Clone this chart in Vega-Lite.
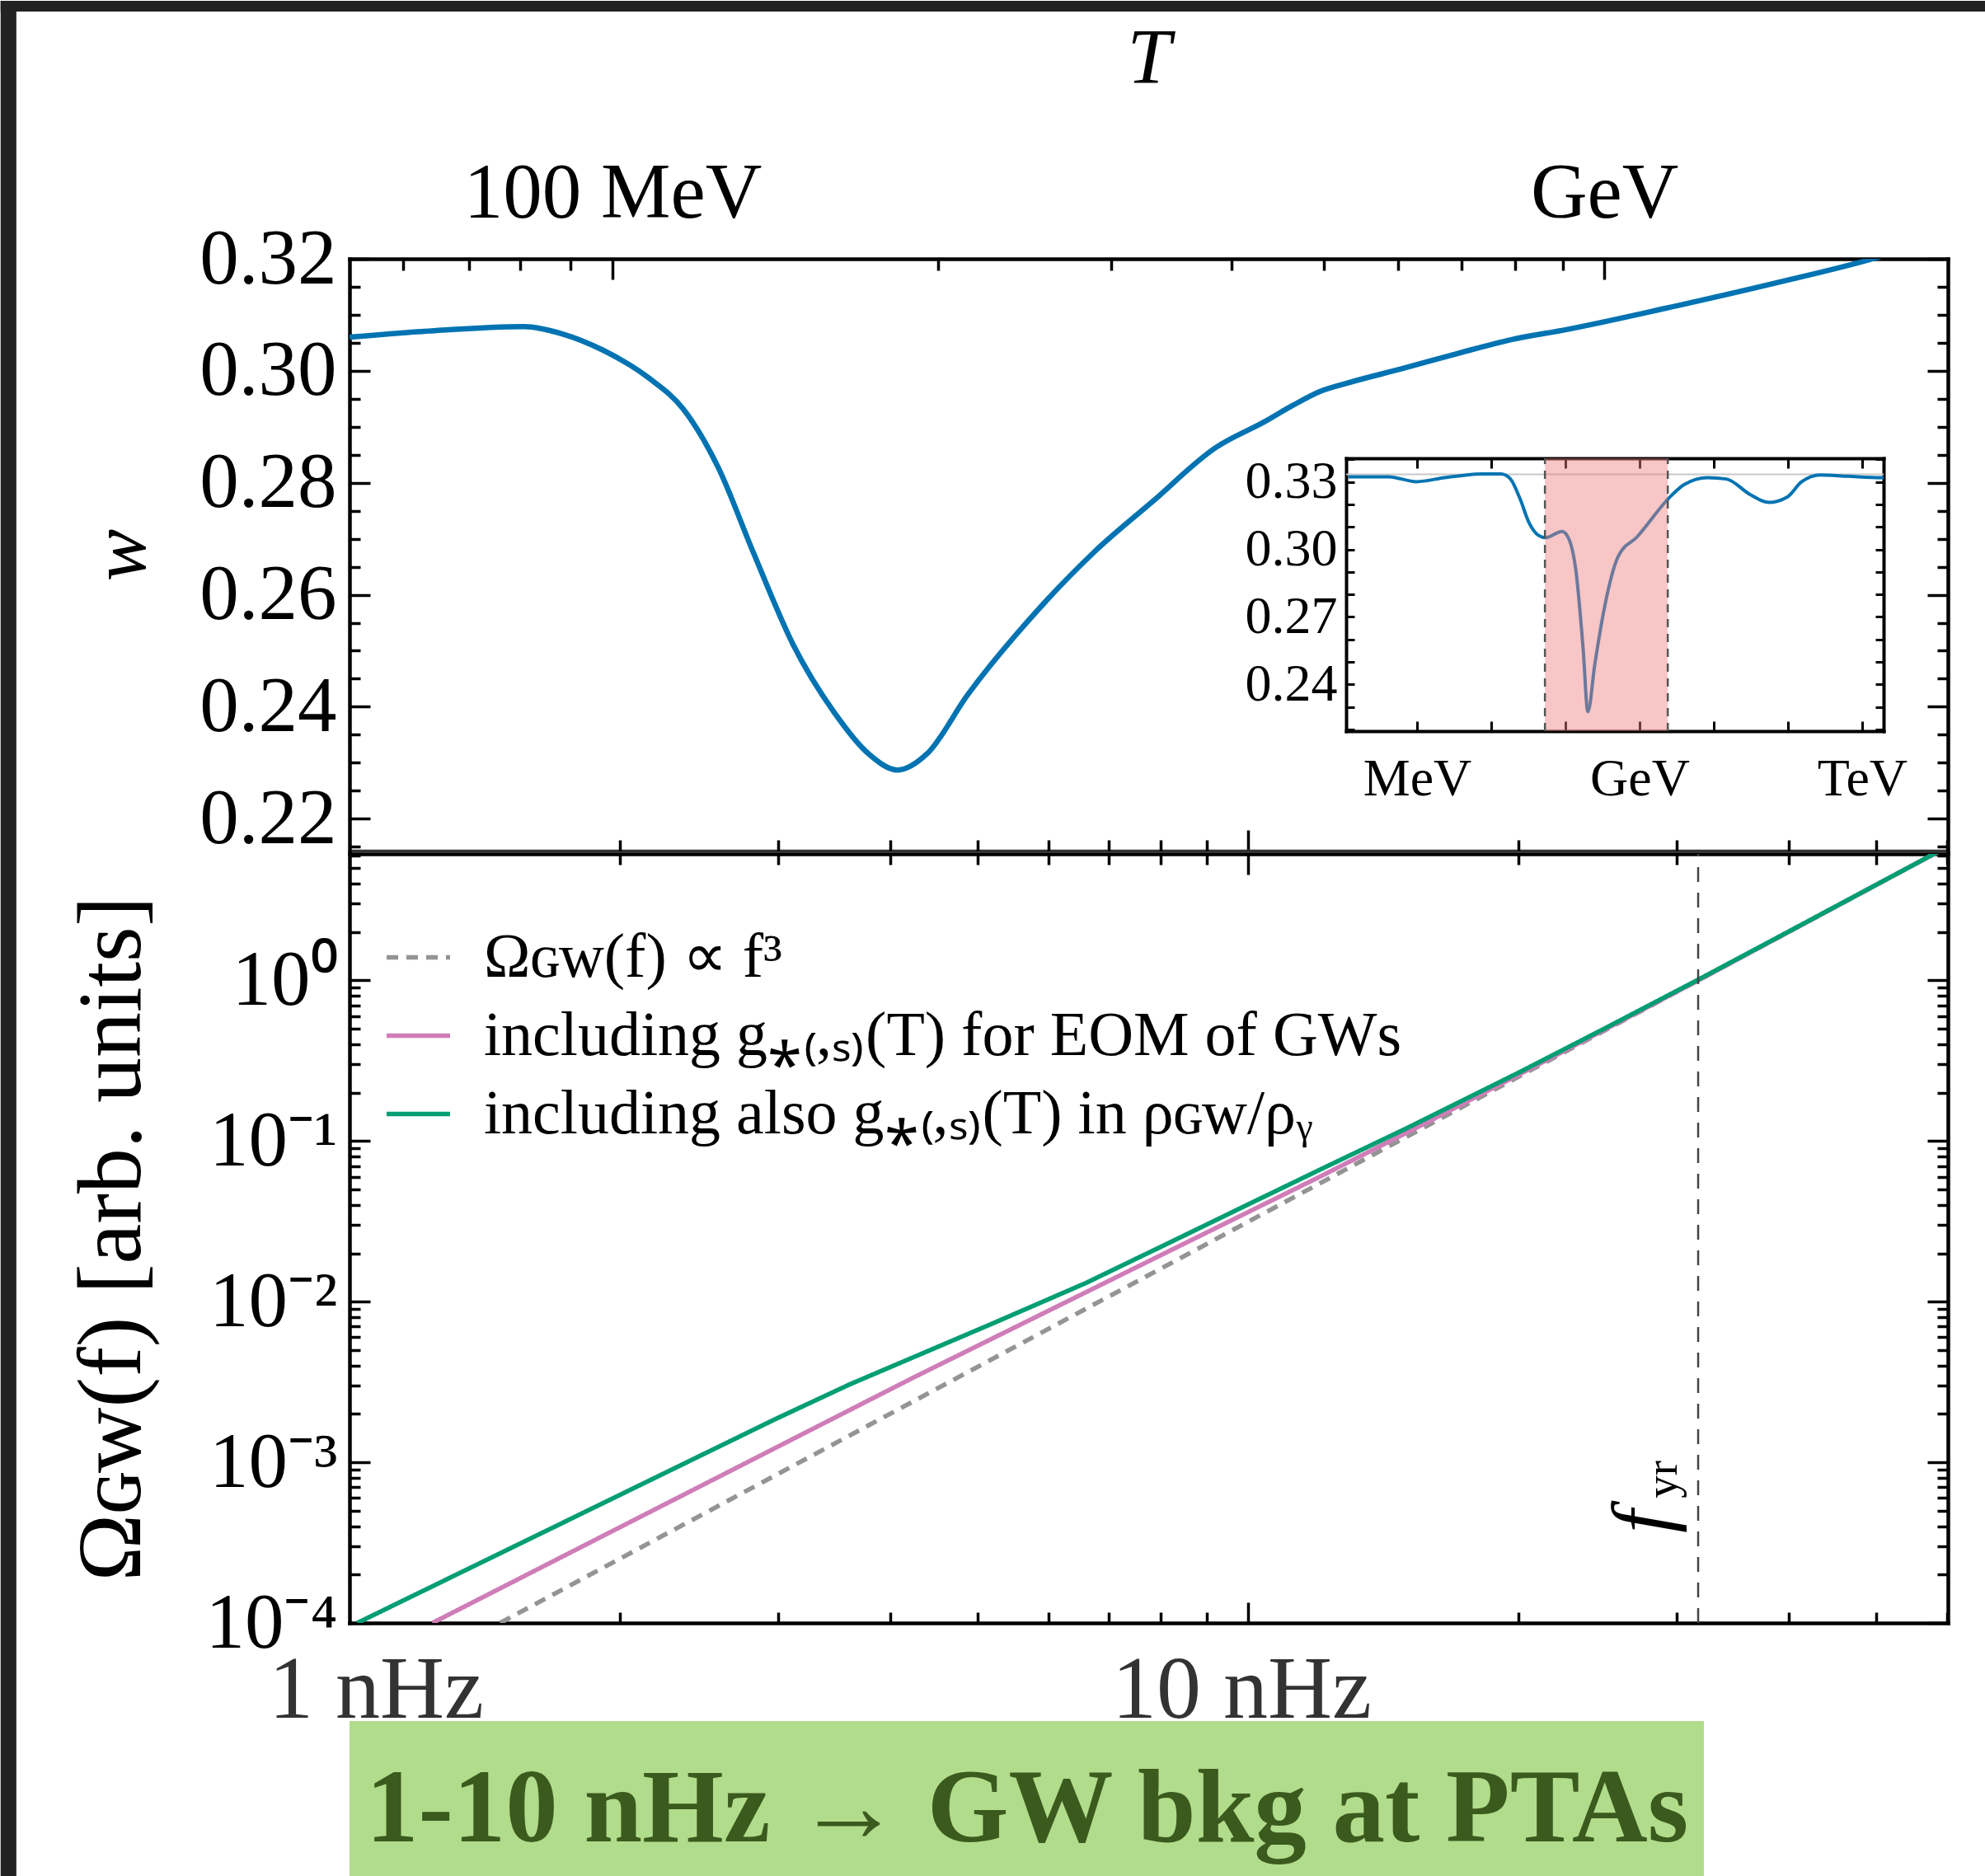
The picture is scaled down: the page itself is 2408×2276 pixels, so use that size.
{
"$schema": "https://vega.github.io/schema/vega-lite/v6.json",
"background": "white",
"padding": 0,
"bounds": "flush",
"spacing": 4,
"config": {
  "view": {"stroke": null},
  "axis": {"grid": false, "labelFont": "Liberation Serif", "titleFont": "Liberation Serif", "labelColor": "black", "titleColor": "black", "domainColor": "black", "tickColor": "black", "domainWidth": 4.5, "tickWidth": 3.5, "domainCap": "square", "labelOverlap": false, "labelFlush": false, "labelBound": false, "labelLimit": 3000, "titleLimit": 3000, "titleFontWeight": "normal", "zindex": 1},
  "text": {"font": "Liberation Serif"}
},
"vconcat": [
{
  "width": 1939, "height": 718,
  "data": {"values": [
    {"f":1.0,"w":0.3060},{"f":1.225,"w":0.3071},{"f":1.565,"w":0.3079},{"f":1.725,"w":0.3066},{"f":1.914,"w":0.3037},
    {"f":2.154,"w":0.2987},{"f":2.354,"w":0.2931},{"f":2.573,"w":0.2827},{"f":2.812,"w":0.2677},{"f":3.119,"w":0.2510},
    {"f":3.459,"w":0.2391},{"f":3.781,"w":0.2316},{"f":4.076,"w":0.2287},{"f":4.393,"w":0.2316},{"f":4.873,"w":0.2421},
    {"f":5.822,"w":0.2571},{"f":6.749,"w":0.2677},{"f":7.823,"w":0.2766},{"f":9.209,"w":0.2863},{"f":10.43,"w":0.2909},
    {"f":11.21,"w":0.2938},{"f":12.02,"w":0.2963},{"f":12.89,"w":0.2978},{"f":14.85,"w":0.3004},{"f":17.11,"w":0.3031},
    {"f":19.67,"w":0.3056},{"f":22.67,"w":0.3074},{"f":29.22,"w":0.3112},{"f":38.46,"w":0.3156},{"f":49.56,"w":0.3200},
    {"f":55.0,"w":0.3222}
  ]},
  "resolve": {"scale": {"x": "independent", "y": "independent"}},
  "layer": [
    {"mark": {"type": "line", "color": "#0173b2", "strokeWidth": 6.5, "interpolate": "monotone", "clip": true},
     "encoding": {
       "x": {"field": "f", "type": "quantitative", "scale": {"type": "log", "domain": [1, 60.1], "nice": false},
             "axis": {"orient": "top", "values": [1.962, 24.91], "labelExpr": "datum.value < 5 ? '100 MeV' : 'GeV'", "ticks": false, "domain": true, "labelFontSize": 95, "labelPadding": 31, "title": "T", "titleFontSize": 95, "titleFontStyle": "italic", "titlePadding": 67}},
       "y": {"field": "w", "type": "quantitative", "scale": {"domain": [0.2143, 0.32], "zero": false, "nice": false},
             "axis": {"orient": "left", "values": [0.22, 0.24, 0.26, 0.28, 0.3, 0.32], "format": ".2f", "ticks": false, "domain": true, "labelFontSize": 95, "labelPadding": 16, "title": "w", "titleFontSize": 95, "titleFontStyle": "italic", "titlePadding": 46}}
     }},
    {"mark": {"type": "line", "opacity": 0},
     "encoding": {
       "x": {"field": "f", "type": "quantitative", "scale": {"type": "log", "domain": [1, 60.1], "nice": false},
             "axis": {"orient": "top", "values": [1.962, 24.91], "tickSize": -25, "labels": false, "domain": false, "title": null}},
       "y": {"field": "w", "type": "quantitative", "scale": {"domain": [0.2143, 0.32], "zero": false, "nice": false},
             "axis": {"orient": "left", "values": [0.22, 0.24, 0.26, 0.28, 0.3, 0.32], "tickSize": -25, "labels": false, "domain": false, "title": null}}
     }},
    {"mark": {"type": "line", "opacity": 0},
     "encoding": {
       "x": {"field": "f", "type": "quantitative", "scale": {"type": "log", "domain": [1, 60.1], "nice": false},
             "axis": {"orient": "top", "values": [1.147, 1.359, 1.548, 1.762, 4.519, 7.042, 9.587, 12.145, 14.69, 17.284, 19.829, 22.41], "tickSize": -14, "labels": false, "domain": false, "title": null}},
       "y": {"field": "w", "type": "quantitative", "scale": {"domain": [0.2143, 0.32], "zero": false, "nice": false},
             "axis": {"orient": "left", "values": [0.215, 0.225, 0.23, 0.235, 0.245, 0.25, 0.255, 0.265, 0.27, 0.275, 0.285, 0.29, 0.295, 0.305, 0.31, 0.315], "tickSize": -13, "labels": false, "domain": false, "title": null}}
     }},
    {"mark": {"type": "line", "opacity": 0},
     "encoding": {
       "x": {"field": "f", "type": "quantitative", "scale": {"type": "log", "domain": [1, 60.1], "nice": false},
             "axis": {"orient": "bottom", "values": [10], "tickSize": -25, "labels": false, "domain": true, "domainWidth": 3.5, "domainColor": "#333333", "title": null}},
       "y": {"field": "w", "type": "quantitative", "scale": {"domain": [0.2143, 0.32], "zero": false, "nice": false},
             "axis": {"orient": "right", "values": [0.22, 0.24, 0.26, 0.28, 0.3, 0.32], "tickSize": -25, "labels": false, "domain": true, "title": null}}
     }},
    {"mark": {"type": "line", "opacity": 0},
     "encoding": {
       "x": {"field": "f", "type": "quantitative", "scale": {"type": "log", "domain": [1, 60.1], "nice": false},
             "axis": {"orient": "bottom", "values": [2, 3, 4, 5, 6, 7, 8, 9, 20, 30, 40, 50, 60], "tickSize": -13, "labels": false, "domain": false, "title": null}},
       "y": {"field": "w", "type": "quantitative", "scale": {"domain": [0.2143, 0.32], "zero": false, "nice": false},
             "axis": {"orient": "right", "values": [0.215, 0.225, 0.23, 0.235, 0.245, 0.25, 0.255, 0.265, 0.27, 0.275, 0.285, 0.29, 0.295, 0.305, 0.31, 0.315], "tickSize": -13, "labels": false, "domain": false, "title": null}}
     }},
    {"data": {"values": [{"line": "w = 1/3"}]},
     "mark": {"type": "rule", "color": "#c8c8c8", "strokeWidth": 2},
     "encoding": {
       "x": {"datum": 0.1107, "type": "quantitative", "scale": {"type": "log", "domain": [0.1107, 1950000], "range": [1209, 1861], "nice": false},
             "axis": {"orient": "top", "offset": -242, "values": [1, 10, 100, 1000, 10000, 100000, 1000000], "tickSize": -12, "tickWidth": 3, "labels": false, "domain": true, "domainWidth": 4, "title": null}},
       "x2": {"datum": 1950000},
       "y": {"datum": 0.33333, "type": "quantitative", "scale": {"domain": [0.2192, 0.3405], "range": [573, 242], "zero": false, "nice": false},
             "axis": {"orient": "right", "offset": -78, "values": [0.22, 0.23, 0.24, 0.25, 0.26, 0.27, 0.28, 0.29, 0.3, 0.31, 0.32, 0.33, 0.34], "tickSize": -10, "tickWidth": 3, "labels": false, "domain": true, "domainWidth": 4, "title": null}}
     }},
    {"data": {"values": [
       {"T":0.1191,"w":0.3323},{"T":0.4111,"w":0.3323},{"T":0.984,"w":0.3301},{"T":2.36,"w":0.3319},{"T":7.568,"w":0.3335},
       {"T":13.55,"w":0.3335},{"T":18.16,"w":0.3313},{"T":24.32,"w":0.3227},{"T":32.51,"w":0.3117},{"T":43.55,"w":0.3062},
       {"T":54.08,"w":0.3052},{"T":90.36,"w":0.3080},{"T":112.2,"w":0.3044},{"T":139.6,"w":0.2897},{"T":173.8,"w":0.2554},
       {"T":200.9,"w":0.2278},{"T":250.0,"w":0.2492},{"T":334.2,"w":0.2737},{"T":517.6,"w":0.2970},{"T":929.0,"w":0.3056},
       {"T":2570,"w":0.3233},{"T":3981,"w":0.3288},{"T":8260,"w":0.3319},{"T":14791,"w":0.3313},{"T":30620,"w":0.3245},
       {"T":54830,"w":0.3209},{"T":98170,"w":0.3233},{"T":152100,"w":0.3300},{"T":272900,"w":0.3331},{"T":653100,"w":0.3325},
       {"T":1811000,"w":0.3319},{"T":1950000,"w":0.3319}
     ]},
     "mark": {"type": "line", "color": "#0173b2", "strokeWidth": 4, "interpolate": "monotone"},
     "encoding": {
       "x": {"field": "T", "type": "quantitative", "scale": {"type": "log", "domain": [0.1107, 1950000], "range": [1209, 1861], "nice": false},
             "axis": {"orient": "bottom", "offset": -145, "values": [1, 1000, 1000000], "labelExpr": "datum.value < 10 ? 'MeV' : datum.value < 10000 ? 'GeV' : 'TeV'", "ticks": false, "domain": true, "domainWidth": 4, "labelFontSize": 64, "labelPadding": 26, "title": null}},
       "y": {"field": "w", "type": "quantitative", "scale": {"domain": [0.2192, 0.3405], "range": [573, 242], "zero": false, "nice": false},
             "axis": {"orient": "left", "offset": -1209, "values": [0.24, 0.27, 0.3, 0.33], "format": ".2f", "ticks": false, "domain": true, "domainWidth": 4, "labelFontSize": 64, "labelPadding": 11, "title": null}}
     }},
    {"data": {"values": [{"T_lo": 53, "T_hi": 2400}]},
     "mark": {"type": "rect", "color": "#f08080", "opacity": 0.45},
     "encoding": {
       "x": {"field": "T_lo", "type": "quantitative", "scale": {"type": "log", "domain": [0.1107, 1950000], "range": [1209, 1861], "nice": false},
             "axis": {"orient": "bottom", "offset": -145, "values": [1, 10, 100, 1000, 10000, 100000, 1000000], "tickSize": -12, "tickWidth": 3, "labels": false, "domain": false, "title": null}},
       "x2": {"field": "T_hi"},
       "y": {"datum": 0.2192, "type": "quantitative", "scale": {"domain": [0.2192, 0.3405], "range": [573, 242], "zero": false, "nice": false},
             "axis": {"orient": "left", "offset": -1209, "values": [0.22, 0.23, 0.24, 0.25, 0.26, 0.27, 0.28, 0.29, 0.3, 0.31, 0.32, 0.33, 0.34], "tickSize": -10, "tickWidth": 3, "labels": false, "domain": false, "title": null}},
       "y2": {"datum": 0.3405}
     }},
    {"data": {"values": [{"T": 53}, {"T": 2400}]},
     "mark": {"type": "rule", "color": "#555555", "strokeWidth": 2.5, "strokeDash": [10, 8]},
     "encoding": {
       "x": {"field": "T", "type": "quantitative", "scale": {"type": "log", "domain": [0.1107, 1950000], "range": [1209, 1861], "nice": false}, "axis": null},
       "y": {"datum": 0.2192, "type": "quantitative", "scale": {"domain": [0.2192, 0.3405], "range": [573, 242], "zero": false, "nice": false}, "axis": null},
       "y2": {"datum": 0.3405}
     }}
  ]
},
{
  "width": 1939, "height": 933,
  "data": {"values": [
    {"series": "Ωɢᴡ(f) ∝ f³", "f": 1.471, "omega": 0.0001},
    {"series": "Ωɢᴡ(f) ∝ f³", "f": 60, "omega": 6.787},
    {"series": "including g⁎₍,ₛ₎(T) for EOM of GWs", "f": 1.2366, "omega": 0.0001},
    {"series": "including g⁎₍,ₛ₎(T) for EOM of GWs", "f": 2.978, "omega": 0.001229},
    {"series": "including g⁎₍,ₛ₎(T) for EOM of GWs", "f": 4.236, "omega": 0.003357},
    {"series": "including g⁎₍,ₛ₎(T) for EOM of GWs", "f": 8.216, "omega": 0.02099},
    {"series": "including g⁎₍,ₛ₎(T) for EOM of GWs", "f": 12, "omega": 0.0597},
    {"series": "including g⁎₍,ₛ₎(T) for EOM of GWs", "f": 16, "omega": 0.1351},
    {"series": "including g⁎₍,ₛ₎(T) for EOM of GWs", "f": 22, "omega": 0.3413},
    {"series": "including g⁎₍,ₛ₎(T) for EOM of GWs", "f": 31.69, "omega": 1.0},
    {"series": "including g⁎₍,ₛ₎(T) for EOM of GWs", "f": 60, "omega": 6.787},
    {"series": "including also g⁎₍,ₛ₎(T) in ρɢᴡ/ρᵧ", "f": 1.02, "omega": 0.0001},
    {"series": "including also g⁎₍,ₛ₎(T) in ρɢᴡ/ρᵧ", "f": 2.978, "omega": 0.001858},
    {"series": "including also g⁎₍,ₛ₎(T) in ρɢᴡ/ρᵧ", "f": 3.6, "omega": 0.00305},
    {"series": "including also g⁎₍,ₛ₎(T) in ρɢᴡ/ρᵧ", "f": 5.2, "omega": 0.00733},
    {"series": "including also g⁎₍,ₛ₎(T) in ρɢᴡ/ρᵧ", "f": 6.601, "omega": 0.01308},
    {"series": "including also g⁎₍,ₛ₎(T) in ρɢᴡ/ρᵧ", "f": 8.216, "omega": 0.02362},
    {"series": "including also g⁎₍,ₛ₎(T) in ρɢᴡ/ρᵧ", "f": 10, "omega": 0.0403},
    {"series": "including also g⁎₍,ₛ₎(T) in ρɢᴡ/ρᵧ", "f": 12, "omega": 0.066},
    {"series": "including also g⁎₍,ₛ₎(T) in ρɢᴡ/ρᵧ", "f": 15, "omega": 0.1198},
    {"series": "including also g⁎₍,ₛ₎(T) in ρɢᴡ/ρᵧ", "f": 20, "omega": 0.2664},
    {"series": "including also g⁎₍,ₛ₎(T) in ρɢᴡ/ρᵧ", "f": 25, "omega": 0.5056},
    {"series": "including also g⁎₍,ₛ₎(T) in ρɢᴡ/ρᵧ", "f": 31.69, "omega": 1.01},
    {"series": "including also g⁎₍,ₛ₎(T) in ρɢᴡ/ρᵧ", "f": 40, "omega": 2.02},
    {"series": "including also g⁎₍,ₛ₎(T) in ρɢᴡ/ρᵧ", "f": 60, "omega": 6.79}
  ]},
  "resolve": {"axis": {"x": "independent", "y": "independent"}},
  "layer": [
    {"data": {"values": [{"frame": "screen border, top"}]},
     "mark": {"type": "rect", "color": "#222222", "clip": false},
     "encoding": {
       "x": {"datum": 0.409, "type": "quantitative", "scale": {"type": "log", "domain": [1, 60.1], "nice": false}, "axis": null},
       "x2": {"datum": 66.24},
       "y": {"datum": 1255600, "type": "quantitative", "scale": {"type": "log", "domain": [0.0001, 6.13], "nice": false}, "axis": null},
       "y2": {"datum": 1076300}
     }},
    {"data": {"values": [{"frame": "screen border, left"}]},
     "mark": {"type": "rect", "color": "#222222", "clip": false},
     "encoding": {
       "x": {"datum": 0.409, "type": "quantitative", "scale": {"type": "log", "domain": [1, 60.1], "nice": false}, "axis": null},
       "x2": {"datum": 0.4258},
       "y": {"datum": 1255600, "type": "quantitative", "scale": {"type": "log", "domain": [0.0001, 6.13], "nice": false}, "axis": null},
       "y2": {"datum": 0.00000266}
     }},
    {"data": {"values": [{"banner": "PTA band"}]},
     "mark": {"type": "rect", "color": "#b1dc8b", "clip": false},
     "encoding": {
       "x": {"datum": 1.0, "type": "quantitative", "scale": {"type": "log", "domain": [1, 60.1], "nice": false}, "axis": null},
       "x2": {"datum": 32.16},
       "y": {"datum": 0.00002452, "type": "quantitative", "scale": {"type": "log", "domain": [0.0001, 6.13], "nice": false}, "axis": null},
       "y2": {"datum": 0.00000266}
     }},
    {"data": {"values": [{"text": "1-10 nHz → GW bkg at PTAs"}]},
     "mark": {"type": "text", "font": "Liberation Serif", "fontWeight": "bold", "fontSize": 127, "color": "#3b5a1e", "align": "center", "baseline": "alphabetic", "clip": false},
     "encoding": {
       "text": {"field": "text", "type": "nominal"},
       "x": {"datum": 5.677, "type": "quantitative", "scale": {"type": "log", "domain": [1, 60.1], "nice": false}, "axis": null},
       "y": {"datum": 0.000004368, "type": "quantitative", "scale": {"type": "log", "domain": [0.0001, 6.13], "nice": false}, "axis": null}
     }},
    {"mark": {"type": "line", "strokeWidth": 5.5, "clip": true},
     "encoding": {
       "x": {"field": "f", "type": "quantitative", "scale": {"type": "log", "domain": [1, 60.1], "nice": false},
             "axis": {"orient": "bottom", "values": [1.07, 9.832], "labelExpr": "datum.value < 5 ? '1 nHz' : '10 nHz'", "ticks": false, "domain": true, "labelFontSize": 108, "labelColor": "#333333", "labelPadding": 29, "title": null}},
       "y": {"field": "omega", "type": "quantitative", "scale": {"type": "log", "domain": [0.0001, 6.13], "nice": false},
             "axis": {"orient": "left", "values": [0.0001, 0.001, 0.01, 0.1, 1], "labelExpr": "datum.value > 0.5 ? '10⁰' : datum.value > 0.05 ? '10⁻¹' : datum.value > 0.005 ? '10⁻²' : datum.value > 0.0005 ? '10⁻³' : '10⁻⁴'", "ticks": false, "domain": true, "labelFontSize": 95, "labelPadding": 15, "title": "Ωɢᴡ(f) [arb. units]", "titleFontSize": 110, "titlePadding": 56}},
       "color": {"field": "series", "type": "nominal",
                 "scale": {"domain": ["Ωɢᴡ(f) ∝ f³", "including g⁎₍,ₛ₎(T) for EOM of GWs", "including also g⁎₍,ₛ₎(T) in ρɢᴡ/ρᵧ"], "range": ["#949494", "#cf7db8", "#029e73"]},
                 "legend": {"orient": "none", "legendX": 42, "legendY": 806, "title": null, "symbolType": "stroke", "symbolSize": 5929, "symbolStrokeWidth": 5.5, "labelFont": "Liberation Serif", "labelFontSize": 76, "labelColor": "black", "labelLimit": 3000, "labelOffset": 38, "rowPadding": 15, "padding": 0}},
       "strokeDash": {"field": "series", "type": "nominal",
                 "scale": {"domain": ["Ωɢᴡ(f) ∝ f³", "including g⁎₍,ₛ₎(T) for EOM of GWs", "including also g⁎₍,ₛ₎(T) in ρɢᴡ/ρᵧ"], "range": [[14, 10], [1, 0], [1, 0]]},
                 "legend": {"orient": "none", "legendX": 42, "legendY": 806, "title": null, "symbolType": "stroke", "symbolSize": 5929, "symbolStrokeWidth": 5.5, "labelFont": "Liberation Serif", "labelFontSize": 76, "labelColor": "black", "labelLimit": 3000, "labelOffset": 38, "rowPadding": 15, "padding": 0}}
     }},
    {"data": {"values": [{"f": 31.69}]},
     "mark": {"type": "rule", "color": "#444444", "strokeWidth": 2.5, "strokeDash": [18, 13]},
     "encoding": {
       "x": {"field": "f", "type": "quantitative", "scale": {"type": "log", "domain": [1, 60.1], "nice": false},
             "axis": {"orient": "bottom", "values": [10], "tickSize": -25, "labels": false, "domain": false, "title": null}},
       "y": {"datum": 0.0001, "type": "quantitative", "scale": {"type": "log", "domain": [0.0001, 6.13], "nice": false},
             "axis": {"orient": "left", "values": [0.0001, 0.001, 0.01, 0.1, 1], "tickSize": -25, "labels": false, "domain": false, "title": null}},
       "y2": {"datum": 6.13}
     }},
    {"data": {"values": [{"label": "f"}]},
     "mark": {"type": "text", "fontStyle": "italic", "fontSize": 100, "angle": 270, "align": "left", "baseline": "alphabetic", "color": "black"},
     "encoding": {
       "text": {"field": "label", "type": "nominal"},
       "x": {"datum": 29.4, "type": "quantitative", "scale": {"type": "log", "domain": [1, 60.1], "nice": false},
             "axis": {"orient": "bottom", "values": [2, 3, 4, 5, 6, 7, 8, 9, 20, 30, 40, 50, 60], "tickSize": -13, "labels": false, "domain": false, "title": null}},
       "y": {"datum": 0.0003634, "type": "quantitative", "scale": {"type": "log", "domain": [0.0001, 6.13], "nice": false},
             "axis": {"orient": "left", "values": [0.0002, 0.0003, 0.0004, 0.0005, 0.0006, 0.0007, 0.0008, 0.0009, 0.002, 0.003, 0.004, 0.005, 0.006, 0.007, 0.008, 0.009, 0.02, 0.03, 0.04, 0.05, 0.06, 0.07, 0.08, 0.09, 0.2, 0.3, 0.4, 0.5, 0.6, 0.7, 0.8, 0.9, 2, 3, 4, 5, 6], "tickSize": -13, "labels": false, "domain": false, "title": null}}
     }},
    {"data": {"values": [{"label": "yr"}]},
     "mark": {"type": "text", "fontSize": 55, "angle": 270, "align": "left", "baseline": "alphabetic", "color": "black"},
     "encoding": {
       "text": {"field": "label", "type": "nominal"},
       "x": {"datum": 30.0, "type": "quantitative", "scale": {"type": "log", "domain": [1, 60.1], "nice": false},
             "axis": {"orient": "top", "values": [10], "tickSize": -25, "labels": false, "domain": true, "title": null}},
       "y": {"datum": 0.0005971, "type": "quantitative", "scale": {"type": "log", "domain": [0.0001, 6.13], "nice": false},
             "axis": {"orient": "right", "values": [0.0001, 0.001, 0.01, 0.1, 1], "tickSize": -25, "labels": false, "domain": true, "title": null}}
     }},
    {"mark": {"type": "line", "opacity": 0},
     "encoding": {
       "x": {"field": "f", "type": "quantitative", "scale": {"type": "log", "domain": [1, 60.1], "nice": false},
             "axis": {"orient": "top", "values": [2, 3, 4, 5, 6, 7, 8, 9, 20, 30, 40, 50, 60], "tickSize": -13, "labels": false, "domain": false, "title": null}},
       "y": {"field": "omega", "type": "quantitative", "scale": {"type": "log", "domain": [0.0001, 6.13], "nice": false},
             "axis": {"orient": "right", "values": [0.0002, 0.0003, 0.0004, 0.0005, 0.0006, 0.0007, 0.0008, 0.0009, 0.002, 0.003, 0.004, 0.005, 0.006, 0.007, 0.008, 0.009, 0.02, 0.03, 0.04, 0.05, 0.06, 0.07, 0.08, 0.09, 0.2, 0.3, 0.4, 0.5, 0.6, 0.7, 0.8, 0.9, 2, 3, 4, 5, 6], "tickSize": -13, "labels": false, "domain": false, "title": null}}
     }}
  ]
}
]
}
